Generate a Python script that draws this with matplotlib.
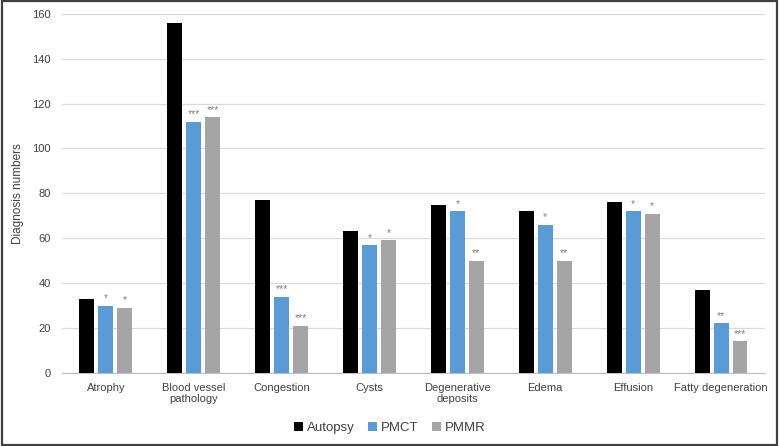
import matplotlib
matplotlib.use("Agg")
import matplotlib.pyplot as plt
import numpy as np

plt.rcParams['font.family'] = ['Liberation Sans', 'DejaVu Sans']

categories = ["Atrophy", "Blood vessel\npathology", "Congestion", "Cysts",
              "Degenerative\ndeposits", "Edema", "Effusion", "Fatty degeneration"]
autopsy = [33, 156, 77, 63, 75, 72, 76, 37]
pmct = [30, 112, 34, 57, 72, 66, 72, 22]
pmmr = [29, 114, 21, 59, 50, 50, 71, 14]
pmct_sig = ["*", "***", "***", "*", "*", "*", "*", "**"]
pmmr_sig = ["*", "***", "***", "*", "**", "**", "*", "***"]

fig = plt.figure(figsize=(7.79, 4.46), dpi=100)
ax = fig.add_axes([0.0796, 0.164, 0.9024, 0.805])

x = np.arange(len(categories))
w = 0.17
off = 0.216
ax.bar(x - off, autopsy, w, color="black", label="Autopsy", zorder=3)
b1 = ax.bar(x, pmct, w, color="#5b9bd5", label="PMCT", zorder=3)
b2 = ax.bar(x + off, pmmr, w, color="#a5a5a5", label="PMMR", zorder=3)

for bars, sigs in [(b1, pmct_sig), (b2, pmmr_sig)]:
    for bar, s in zip(bars, sigs):
        ax.text(bar.get_x() + bar.get_width() / 2, bar.get_height() + 1.0, s,
                ha="center", va="bottom", fontsize=7.5, color="#7f7f7f")

ax.set_xlim(-0.5, len(categories) - 0.5)
ax.set_ylim(0, 160)
ax.set_yticks(range(0, 161, 20))
ax.set_xticks(x)
ax.set_xticklabels(categories, fontsize=8, color="#404040")
ax.tick_params(axis="y", labelsize=8, colors="#404040", length=0, pad=8)
ax.tick_params(axis="x", length=0, pad=7)
ax.grid(axis="y", color="#d9d9d9", linewidth=0.9, zorder=0)
for sp in ["top", "right", "left"]:
    ax.spines[sp].set_visible(False)
ax.spines["bottom"].set_color("#bfbfbf")
ax.set_ylabel("Diagnosis numbers", fontsize=8.5, color="#404040", labelpad=6)

fig.legend(loc="lower center", bbox_to_anchor=(0.5, 0.0), ncol=3, frameon=False,
           fontsize=9.5, handlelength=0.7, handleheight=0.7, handletextpad=0.3,
           columnspacing=1.0, labelcolor="#404040")

border = plt.Rectangle((0.002, 0.003), 0.996, 0.994, transform=fig.transFigure,
                       fill=False, edgecolor="#404040", linewidth=1.6)
fig.patches.append(border)

fig.savefig("out.png", dpi=100)
